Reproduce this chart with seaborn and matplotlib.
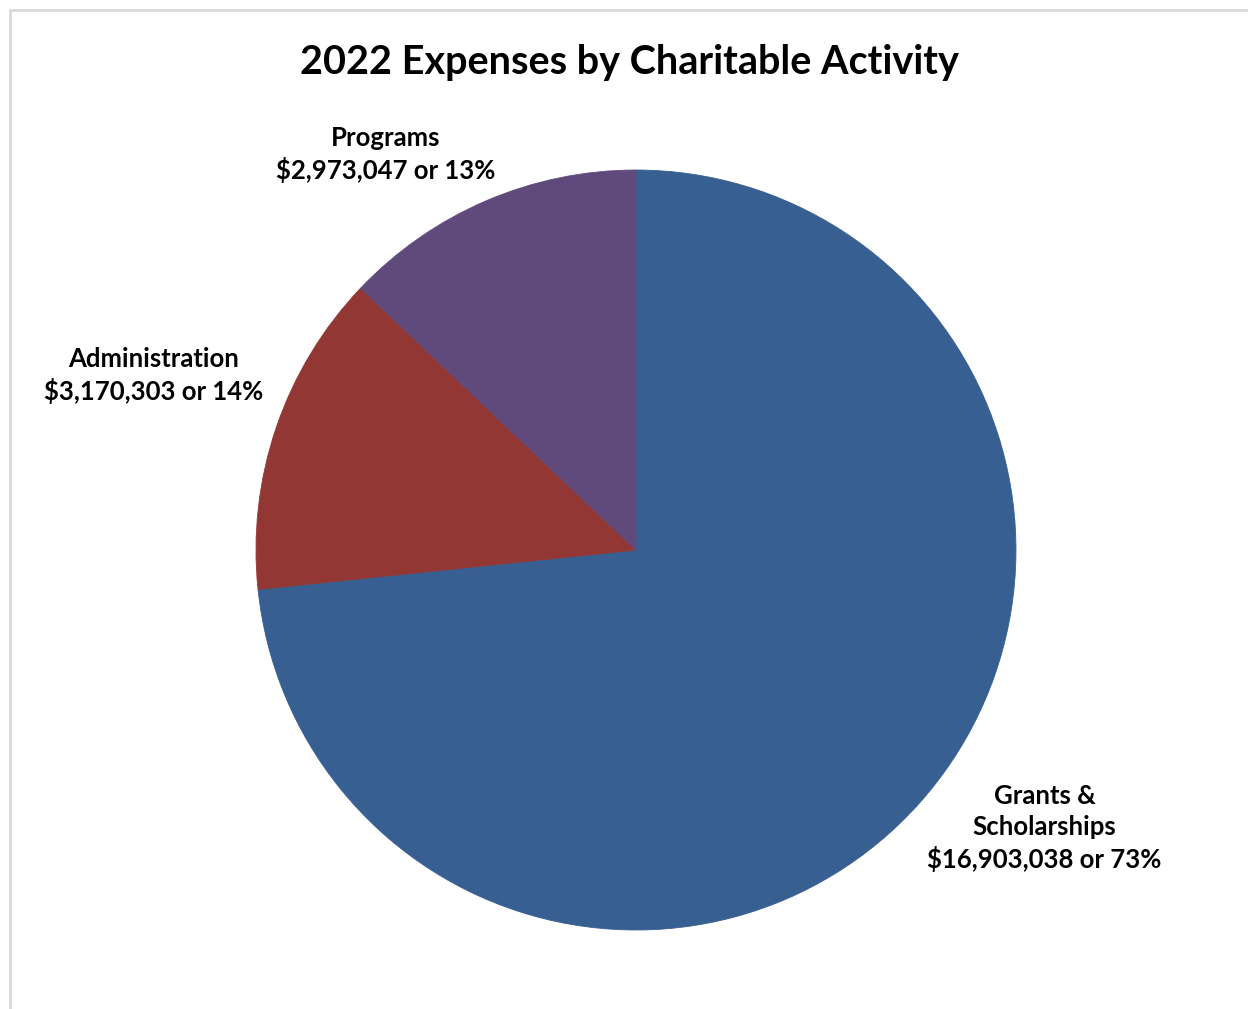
import matplotlib
matplotlib.use("Agg")
import matplotlib.pyplot as plt
import seaborn as sns

# data
categories = ["Grants &\nScholarships", "Administration", "Programs"]
amounts = [16903038, 3170303, 2973047]
percents = [73, 14, 13]
colors = ["#385F91", "#923734", "#604A7B"]

sns.set_theme(style="white")
plt.rcParams['font.family'] = ['Lato', 'DejaVu Sans']

fig = plt.figure(figsize=(12.48, 10.09), dpi=100)
fig.patch.set_facecolor("white")

# pie axes placed so the pie sits where it does in the reference
ax = fig.add_axes([0.2051, 0.0783, 0.609, 0.7532])
wedges, _ = ax.pie(amounts, colors=colors, startangle=90, counterclock=False,
                   radius=1.0)
for w in wedges:
    w.set_edgecolor(w.get_facecolor())
    w.set_linewidth(0.6)
ax.set_xlim(-1, 1)
ax.set_ylim(-1, 1)
ax.set_aspect("equal")
ax.axis("off")

fig.text(0.504, 0.938, "2022 Expenses by Charitable Activity", ha="center", va="center",
         fontsize=28.5, fontweight="bold", color="black")

# label positions (figure fraction)
label_pos = [(0.837, 0.179), (0.123, 0.628), (0.309, 0.847)]
for name, amt, pct, (x, y) in zip(categories, amounts, percents, label_pos):
    fig.text(x, y, f"{name}\n${amt:,} or {pct}%", ha="center", va="center",
             fontsize=18.5, fontweight="bold", color="black", linespacing=1.33)

# light grey frame (top and left edges only, as in the cropped reference)
fig.add_artist(plt.Line2D([0.008, 1.0], [0.990, 0.990], transform=fig.transFigure,
                          color="#d9d9d9", linewidth=2))
fig.add_artist(plt.Line2D([0.008, 0.008], [0.0, 0.990], transform=fig.transFigure,
                          color="#d9d9d9", linewidth=2))

fig.savefig("out.png", dpi=100, facecolor="white")
